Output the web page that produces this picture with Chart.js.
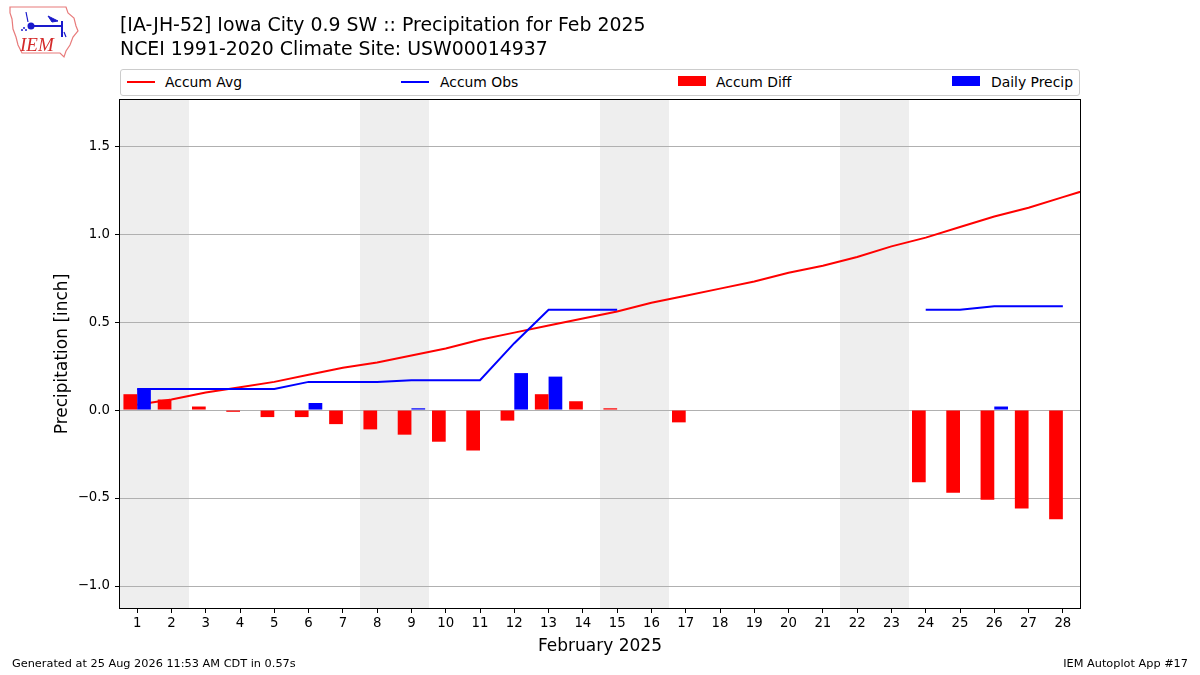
<!DOCTYPE html>
<html>
<head>
<meta charset="utf-8">
<title>Iowa City 0.9 SW :: Precipitation for Feb 2025</title>
<script src="https://cdn.jsdelivr.net/npm/chart.js@4.4.1/dist/chart.umd.min.js"></script>
<style>
    body { margin: 0; background: #fff; font-family: "DejaVu Sans", sans-serif; color: #000; }
    #wrap { position: relative; width: 1200px; height: 675px; overflow: hidden; }
    #mycanvas { position: absolute; left: 0; top: 0; }
    .title { position: absolute; left: 120px; font-size: 18.9px; white-space: nowrap; line-height: 22px; }
    #legend { position: absolute; left: 120px; top: 69px; width: 958px; height: 25px;
              border: 1px solid #cccccc; border-radius: 3px; background: #fff; }
    .lg { position: absolute; font-size: 13.9px; top: 4px; white-space: nowrap; line-height: 17px; }
    .hline { position: absolute; top: 11px; width: 28px; height: 2px; }
    .patch { position: absolute; top: 6px; width: 28px; height: 10px; }
    .foot { position: absolute; top: 657px; font-size: 11.3px; white-space: nowrap; }
    #logo { position: absolute; left: 6px; top: 4px; }
</style>
</head>
<body>
<div id="wrap">
    <canvas id="mycanvas" width="1200" height="675"></canvas>

    <svg id="logo" width="78" height="56" viewBox="0 0 78 56">
        <polygon points="4,3 60,3 62,9 68,14 70,22 72,27 67,33 64,41 60,47 58,53 54,49 16,49 12,41 10,33 7,25 6,15 4,9"
                 fill="#fff" stroke="#e87b7b" stroke-width="1.2"/>
        <g stroke="#1a1acc" stroke-width="2" fill="#1a1acc">
            <line x1="25" y1="22" x2="56" y2="22"/>
            <circle cx="25" cy="22" r="2.5"/>
            <line x1="56" y1="17" x2="56" y2="33"/>
            <line x1="20" y1="8" x2="22" y2="18" stroke-width="1.2"/>
            <polygon points="42,12 52,17 46,18" stroke-width="1"/>
            <line x1="58" y1="28" x2="60" y2="33" stroke-width="1.2"/>
        </g>
        <circle cx="18" cy="24" r="1" fill="#1a1acc"/>
        <circle cx="16" cy="26" r="1" fill="#1a1acc"/>
        <circle cx="20" cy="26" r="1" fill="#1a1acc"/>
        <text x="14" y="47" font-family="Liberation Serif, serif" font-style="italic" font-size="19" fill="#d42a2a">IEM</text>
    </svg>

    <div class="title" style="top:13px">[IA-JH-52] Iowa City 0.9 SW :: Precipitation for Feb 2025</div>
    <div class="title" style="top:37px">NCEI 1991-2020 Climate Site: USW00014937</div>

    <div id="legend">
        <div class="hline" style="left:6px;background:#ff0000"></div>
        <div class="lg" style="left:44px">Accum Avg</div>
        <div class="hline" style="left:280px;background:#0000ff"></div>
        <div class="lg" style="left:319px">Accum Obs</div>
        <div class="patch" style="left:557px;background:#ff0000"></div>
        <div class="lg" style="left:595px">Accum Diff</div>
        <div class="patch" style="left:831px;background:#0000ff"></div>
        <div class="lg" style="left:870px">Daily Precip</div>
    </div>

    <div class="foot" style="left:12px">Generated at 25 Aug 2026 11:53 AM CDT in 0.57s</div>
    <div class="foot" style="right:12px">IEM Autoplot App #17</div>
</div>

<script>
// days of February 2025
var days = [1, 2, 3, 4, 5, 6, 7, 8, 9, 10, 11, 12, 13, 14, 15, 16, 17, 18, 19, 20, 21, 22, 23, 24, 25, 26, 27, 28];
// climatology accumulation, last value is 1 Mar (runs off the right edge)
var avgDays = days.concat([29]);
var accumAvg = [0.03, 0.06, 0.10, 0.13, 0.16, 0.20, 0.24, 0.27, 0.31, 0.35, 0.40, 0.44, 0.48, 0.52,
                0.56, 0.61, 0.65, 0.69, 0.73, 0.78, 0.82, 0.87, 0.93, 0.98, 1.04, 1.10, 1.15, 1.21, 1.27];
var accumObs = [0.12, 0.12, 0.12, 0.12, 0.12, 0.16, 0.16, 0.16, 0.17, 0.17, 0.17, 0.38, 0.57, 0.57, 0.57,
                null, null, null, null, null, null, null, null, 0.57, 0.57, 0.59, 0.59, 0.59];
var accumDiff = [0.09, 0.06, 0.02, -0.01, -0.04, -0.04, -0.08, -0.11, -0.14, -0.18, -0.23, -0.06, 0.09, 0.05, 0.01,
                 null, -0.07, null, null, null, null, null, null, -0.41, -0.47, -0.51, -0.56, -0.62];
var dailyPrecip = [0.12, null, null, null, null, 0.04, null, null, 0.01, null, null, 0.21, 0.19, null,
                   null, null, null, null, null, null, null, null, null, null, null, 0.02, null, null];
// saturdays; each weekend covers sat + sun
var weekendStarts = [1, 8, 15, 22];
var yTicks = [-1.0, -0.5, 0.0, 0.5, 1.0, 1.5];
var yMin = -1.125, yMax = 1.762;

function pts(xs, ys) {
    return xs.map(function(d, i) { return {x: d, y: ys[i]}; });
}

var weekendShade = {
    id: 'weekendShade',
    beforeDraw: function(chart) {
        var ctx = chart.ctx, area = chart.chartArea, xs = chart.scales.x;
        ctx.save();
        ctx.fillStyle = '#eeeeee';
        weekendStarts.forEach(function(d) {
            var x0 = Math.round(xs.getPixelForValue(d - 0.5)), x1 = Math.round(xs.getPixelForValue(d + 1.5));
            ctx.fillRect(x0, area.top, x1 - x0, area.bottom - area.top);
        });
        ctx.restore();
    }
};

var frame = {
    id: 'frame',
    afterDraw: function(chart) {
        var ctx = chart.ctx, a = chart.chartArea;
        ctx.save();
        ctx.strokeStyle = '#000';
        ctx.lineWidth = 1;
        ctx.strokeRect(Math.round(a.left) - 0.5, Math.round(a.top) - 0.5,
                       Math.round(a.right - a.left) + 1, Math.round(a.bottom - a.top) + 1);
        ctx.restore();
    }
};

Chart.defaults.font.family = '"DejaVu Sans", sans-serif';
Chart.defaults.color = '#000';

var ctx = document.getElementById('mycanvas');
var chart = new Chart(ctx, {
    type: 'bar',
    data: {
        datasets: [
            { label: 'Accum Diff', data: pts(days, accumDiff), backgroundColor: '#ff0000',
              categoryPercentage: 0.8, barPercentage: 1.0, order: 1 },
            { label: 'Daily Precip', data: pts(days, dailyPrecip), backgroundColor: '#0000ff',
              categoryPercentage: 0.8, barPercentage: 1.0, order: 2 },
            { type: 'line', label: 'Accum Obs', data: pts(days, accumObs), borderColor: '#0000ff',
              borderWidth: 2, pointRadius: 0, tension: 0, spanGaps: false, order: 3 },
            { type: 'line', label: 'Accum Avg', data: pts(avgDays, accumAvg), borderColor: '#ff0000',
              borderWidth: 2, pointRadius: 0, tension: 0, order: 4 }
        ]
    },
    options: {
        responsive: false,
        animation: false,
        devicePixelRatio: 1,
        layout: { padding: { top: 100, right: 120, bottom: 0, left: 0 } },
        plugins: { legend: { display: false }, tooltip: { enabled: false }, title: { display: false } },
        scales: {
            x: {
                type: 'linear', min: 0.5, max: 28.5, offset: false,
                grid: { drawOnChartArea: false, drawTicks: true, tickLength: 5, tickColor: '#000', offset: false },
                border: { display: false },
                ticks: { font: { size: 13.3 }, padding: 3, autoSkip: false, maxRotation: 0,
                         callback: function(v) { return String(v); } },
                afterBuildTicks: function(scale) { scale.ticks = days.map(function(d) { return {value: d}; }); },
                afterFit: function(scale) { scale.height = 67; },
                title: { display: true, text: 'February 2025', font: { size: 17 }, padding: { top: 0, bottom: 18 } }
            },
            y: {
                type: 'linear', min: yMin, max: yMax,
                grid: { color: '#b0b0b0', lineWidth: 1, tickLength: 5, tickColor: '#000' },
                border: { display: false },
                ticks: { font: { size: 13.3 }, padding: 5,
                         callback: function(v) { return (v < 0 ? '\u2212' : '') + Math.abs(v).toFixed(1); } },
                afterBuildTicks: function(scale) { scale.ticks = yTicks.map(function(v) { return {value: v}; }); },
                afterFit: function(scale) { scale.width = 120; },
                title: { display: true, text: 'Precipitation [inch]', font: { size: 17 }, padding: { top: 52, bottom: 0 } }
            }
        }
    },
    plugins: [weekendShade, frame]
});
</script>
</body>
</html>
